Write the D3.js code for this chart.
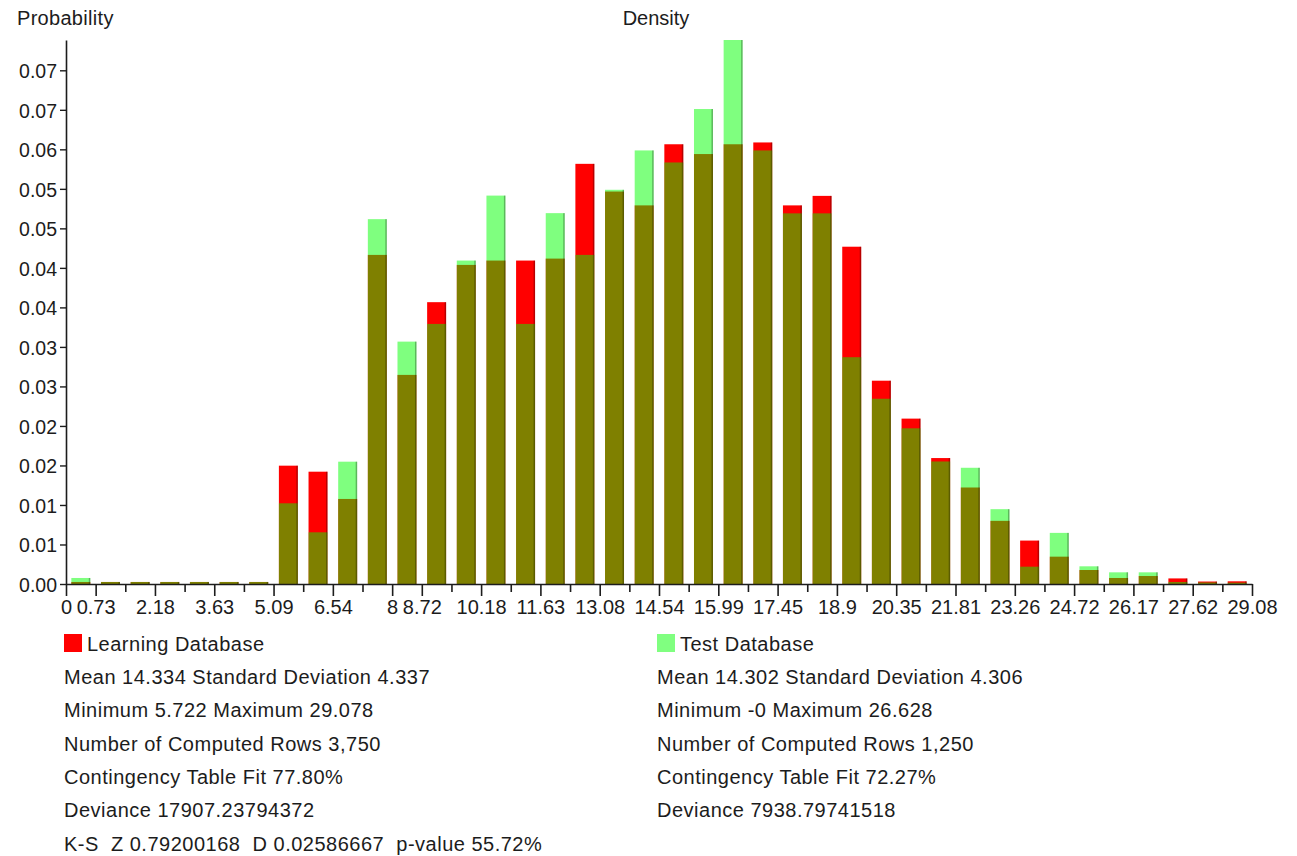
<!DOCTYPE html>
<html>
<head>
<meta charset="utf-8">
<script src="https://cdn.jsdelivr.net/npm/d3@7"></script>
<style>
  body { margin: 0; background: #fff; }
  svg { display: block; }
  text { font-family: "Liberation Sans", Arial, sans-serif; fill: #1c1c1c; }
</style>
</head>
<body>
<svg id="chart" width="1297" height="856"></svg>
<script>
// Histogram: 40 bins over [0, 29.078]
const rangeMax = 29.078;
const binCount = 40;

// Probability per bin, learning sample
const learning = [
  0.00028, 0.00028, 0.00028, 0.00028, 0.00028, 0.00028, 0.00028, 0.01632,
  0.01549, 0.01173, 0.04539, 0.02884, 0.03887, 0.04401, 0.04461, 0.04461,
  0.04488, 0.05795, 0.05413, 0.05222, 0.06065, 0.05930, 0.06065, 0.06090,
  0.05222, 0.05353, 0.04652, 0.02804, 0.02281, 0.01737, 0.01331, 0.00871,
  0.00599, 0.00377, 0.00193, 0.00083, 0.00110, 0.00077, 0.00034, 0.00037
];

// Probability per bin, test sample
const test = [
  0.00083, 0.00028, 0.00028, 0.00028, 0.00028, 0.00028, 0.00028, 0.01113,
  0.00713, 0.01687, 0.05032, 0.03343, 0.03587, 0.04461, 0.05357, 0.03587,
  0.05115, 0.04539, 0.05437, 0.05980, 0.05814, 0.06551, 0.07503, 0.05980,
  0.05112, 0.05112, 0.03128, 0.02555, 0.02147, 0.01690, 0.01603, 0.01032,
  0.00239, 0.00705, 0.00244, 0.00161, 0.00161, 0.00028, 0.00021, 0.00018
];

// Labelled positions on the x axis
const xLabelValues = [0, 0.727, 2.181, 3.635, 5.089, 6.543, 8, 8.724, 10.177,
  11.631, 13.085, 14.539, 15.993, 17.447, 18.901, 20.355, 21.809, 23.263,
  24.717, 26.171, 27.624, 29.078];
const xLabelTexts = ["0", "0.73", "2.18", "3.63", "5.09", "6.54", "8", "8.72",
  "10.18", "11.63", "13.08", "14.54", "15.99", "17.45", "18.9", "20.35",
  "21.81", "23.26", "24.72", "26.17", "27.62", "29.08"];

// y axis ticks and their printed labels
const yTickValues = [0, 0.00545, 0.0109, 0.01635, 0.0218, 0.02725, 0.0327,
  0.03815, 0.0436, 0.04905, 0.0545, 0.05995, 0.0654, 0.07085];
const yTickLabels = ["0.00", "0.01", "0.01", "0.02", "0.02", "0.03", "0.03",
  "0.04", "0.04", "0.05", "0.05", "0.06", "0.07", "0.07"];

const seriesNames = ["Learning Database", "Test Database"];

const learningStats = [
  "Mean 14.334 Standard Deviation 4.337",
  "Minimum 5.722 Maximum 29.078",
  "Number of Computed Rows 3,750",
  "Contingency Table Fit 77.80%",
  "Deviance 17907.23794372",
  "K-S  Z 0.79200168  D 0.02586667  p-value 55.72%"
];
const testStats = [
  "Mean 14.302 Standard Deviation 4.306",
  "Minimum -0 Maximum 26.628",
  "Number of Computed Rows 1,250",
  "Contingency Table Fit 72.27%",
  "Deviance 7938.79741518"
];

const svg = d3.select("#chart");
const plot = { left: 66, right: 1252, top: 40, bottom: 584 };

const binWidth = rangeMax / binCount;
const bins = d3.range(binCount).map(i => ({
  x0: i * binWidth,
  x1: (i + 1) * binWidth,
  learn: learning[i],
  test: test[i]
}));

const x = d3.scaleLinear().domain([0, rangeMax]).range([plot.left, plot.right]);
const y = d3.scaleLinear()
  .domain([0, d3.max([...learning, ...test])])
  .range([plot.bottom, plot.top]);

const binPx = x(binWidth) - x(0);
const barW = binPx * 0.64;
const barX = d => x((d.x0 + d.x1) / 2) - barW / 2;

// Titles
svg.append("text").attr("x", 17).attr("y", 25)
  .style("font-size", "20px").style("letter-spacing", "0.3px").text("Probability");
svg.append("text").attr("x", 656).attr("y", 25).attr("text-anchor", "middle")
  .style("font-size", "20px").text("Density");

// Bars: learning in solid red, test in half-transparent green on top
const bars = svg.append("g");
bars.selectAll("rect.learn").data(bins).join("rect")
  .attr("class", "learn")
  .attr("x", barX).attr("width", barW)
  .attr("y", d => y(d.learn)).attr("height", d => y(0) - y(d.learn))
  .attr("fill", "#ff0000");
bars.selectAll("rect.test").data(bins).join("rect")
  .attr("class", "test")
  .attr("x", barX).attr("width", barW)
  .attr("y", d => y(d.test)).attr("height", d => y(0) - y(d.test))
  .attr("fill", "#00ff00").attr("fill-opacity", 0.5);
// thin shaded right edge on each bar
bars.selectAll("rect.edge").data(bins).join("rect")
  .attr("class", "edge")
  .attr("x", d => barX(d) + barW - 1.5).attr("width", 1.5)
  .attr("y", d => y(Math.max(d.learn, d.test)))
  .attr("height", d => y(0) - y(Math.max(d.learn, d.test)))
  .attr("fill", "#000").attr("fill-opacity", 0.28);

// y axis
const yAxis = svg.append("g")
  .attr("transform", `translate(${plot.left},0)`)
  .call(d3.axisLeft(y)
    .tickValues(yTickValues)
    .tickFormat((d, i) => yTickLabels[i])
    .tickSize(6).tickSizeOuter(0).tickPadding(3));
yAxis.select(".domain").attr("stroke", "#1c1c1c").attr("stroke-width", 1.6);
yAxis.selectAll(".tick line").attr("stroke", "#1c1c1c").attr("stroke-width", 1.4);
yAxis.selectAll(".tick text").style("font-size", "19.5px").attr("fill", "#1c1c1c")
  .attr("dy", "0.38em");

// x axis: a tick at every bin edge, longer where labelled
const edges = d3.range(binCount + 1).map(i => i * binWidth);
const labelFor = v => {
  const k = xLabelValues.findIndex(t => Math.abs(t - v) < 0.01);
  return k < 0 ? null : xLabelTexts[k];
};
const xAxis = svg.append("g")
  .attr("transform", `translate(0,${plot.bottom})`)
  .call(d3.axisBottom(x)
    .tickValues(edges)
    .tickFormat(v => labelFor(v) || "")
    .tickSize(12).tickSizeOuter(0).tickPadding(3));
xAxis.select(".domain").attr("stroke", "#1c1c1c").attr("stroke-width", 1.6);
xAxis.selectAll(".tick line")
  .attr("stroke", "#1c1c1c").attr("stroke-width", 1.6)
  .attr("y2", v => labelFor(v) ? 12 : 8);
xAxis.selectAll(".tick text").style("font-size", "20px").attr("fill", "#1c1c1c")
  .attr("y", 16);

// Legend and statistics, one column per series
const colors = ["#ff0000", "#80ff80"];
const columns = [
  { x: 64, name: seriesNames[0], color: colors[0], lines: learningStats },
  { x: 657, name: seriesNames[1], color: colors[1], lines: testStats }
];
const lineTop = 644, lineStep = 33.3;
columns.forEach(c => {
  const g = svg.append("g");
  g.append("rect").attr("x", c.x).attr("y", lineTop - 10)
    .attr("width", 18).attr("height", 18).attr("fill", c.color);
  g.append("text").attr("x", c.x + 23).attr("y", lineTop).attr("dy", "0.36em")
    .style("font-size", "20px").style("letter-spacing", "0.5px").text(c.name);
  g.selectAll("text.stat").data(c.lines).join("text")
    .attr("class", "stat")
    .attr("x", c.x).attr("y", (d, i) => lineTop + lineStep * (i + 1))
    .attr("dy", "0.34em")
    .style("font-size", "20px").style("letter-spacing", "0.5px")
    .style("white-space", "pre")
    .attr("xml:space", "preserve")
    .text(d => d);
});
</script>
</body>
</html>
